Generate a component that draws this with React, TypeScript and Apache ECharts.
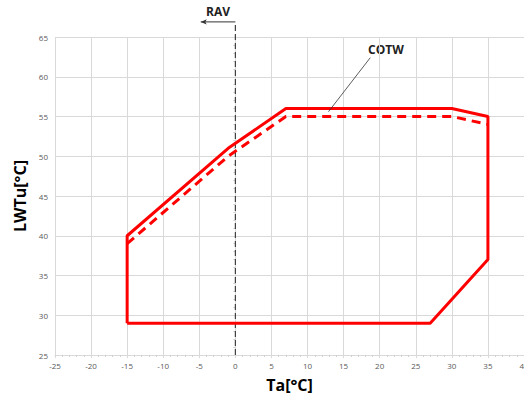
import React, { useEffect, useRef } from "react";
import * as echarts from "echarts";

const xTicks = [-25, 40, 5];
const yTicks = [25, 65, 5];
const envelopeMax: [number, number][] = [
  [-15, 29], [-15, 40], [-1, 51], [7, 56], [30, 56], [35, 55], [35, 37], [27, 29], [-15, 29],
];
const envelopeCOTW: [number, number][] = [
  [-15, 39], [-1, 50], [7, 55], [30, 55], [35, 54],
];
const ravLine: [number, number][] = [[0, 25], [0, 66.6]];
const ravArrow: [number, number][] = [[0, 66.9], [-4.8, 66.9]];
const cotwLeader: [number, number][] = [[18.7, 62.4], [12.9, 55.6]];

export default function App() {
  const ref = useRef<HTMLDivElement>(null);
  useEffect(() => {
    if (!ref.current) return;
    const chart = echarts.init(ref.current, null, { renderer: "svg" });
    const font = "'Open Sans', 'Liberation Sans', sans-serif";
    chart.setOption({
      animation: false,
      backgroundColor: "#ffffff",
      grid: { left: 55, right: 0, top: 37, bottom: 42, containLabel: false, outerBoundsMode: "none" },
      xAxis: {
        type: "value",
        min: xTicks[0],
        max: xTicks[1],
        interval: xTicks[2],
        name: "Ta[°C]",
        nameLocation: "middle",
        nameGap: 22,
        nameTextStyle: { fontFamily: font, fontWeight: "bold", fontSize: 16, color: "#000" },
        axisLine: { show: true, lineStyle: { color: "#d9d9d9" } },
        axisTick: { show: true, length: 3, lineStyle: { color: "#d9d9d9" } },
        minorTick: { show: true, splitNumber: 5, length: 2, lineStyle: { color: "#d0d0d0" } },
        axisLabel: { fontFamily: font, fontSize: 8, color: "#595959", margin: 6 },
        splitLine: { show: true, lineStyle: { color: "#d9d9d9", width: 1 } },
      },
      yAxis: {
        type: "value",
        min: yTicks[0],
        max: yTicks[1],
        interval: yTicks[2],
        name: "LWTu[°C]",
        nameLocation: "middle",
        nameGap: 27,
        nameTextStyle: { fontFamily: font, fontWeight: "bold", fontSize: 16, color: "#000" },
        axisLine: { show: true, lineStyle: { color: "#d9d9d9" } },
        axisTick: { show: true, length: 3, lineStyle: { color: "#d9d9d9" } },
        minorTick: { show: true, splitNumber: 5, length: 2, lineStyle: { color: "#d0d0d0" } },
        axisLabel: { fontFamily: font, fontSize: 8, color: "#595959", margin: 7 },
        splitLine: { show: true, lineStyle: { color: "#d9d9d9", width: 1 } },
      },
      series: [
        {
          type: "line",
          data: ravLine,
          symbol: "none",
          clip: false,
          lineStyle: { color: "#404040", width: 1.2, type: [6, 3] },
          z: 1,
        },
        {
          type: "line",
          data: envelopeMax,
          symbol: "none",
          lineStyle: { color: "#ff0000", width: 3 },
          z: 3,
        },
        {
          type: "line",
          data: envelopeCOTW,
          symbol: "none",
          lineStyle: { color: "#ff0000", width: 3, type: [9, 6] },
          z: 3,
        },
        {
          type: "line",
          data: [
            { value: ravArrow[0], symbol: "none" },
            { value: ravArrow[1], symbol: "arrow", symbolSize: [4, 6], symbolRotate: 90 },
          ],
          showSymbol: true,
          clip: false,
          itemStyle: { color: "#333" },
          lineStyle: { color: "#333", width: 1 },
          z: 4,
        },
        {
          type: "line",
          data: cotwLeader,
          symbol: "none",
          clip: false,
          lineStyle: { color: "#333", width: 0.8 },
          z: 4,
        },
      ],
      graphic: [
        {
          type: "text",
          left: 206,
          top: 5,
          style: { text: "RAV", fontFamily: font, fontWeight: "bold", fontSize: 12, fill: "#222" },
        },
        {
          type: "text",
          left: 368,
          top: 43,
          style: { text: "COTW", fontFamily: font, fontWeight: "bold", fontSize: 12, fill: "#222" },
        },
      ],
    });
    return () => chart.dispose();
  }, []);
  return <div ref={ref} style={{ width: 524, height: 397, position: "absolute", left: 0, top: 0 }} />;
}
